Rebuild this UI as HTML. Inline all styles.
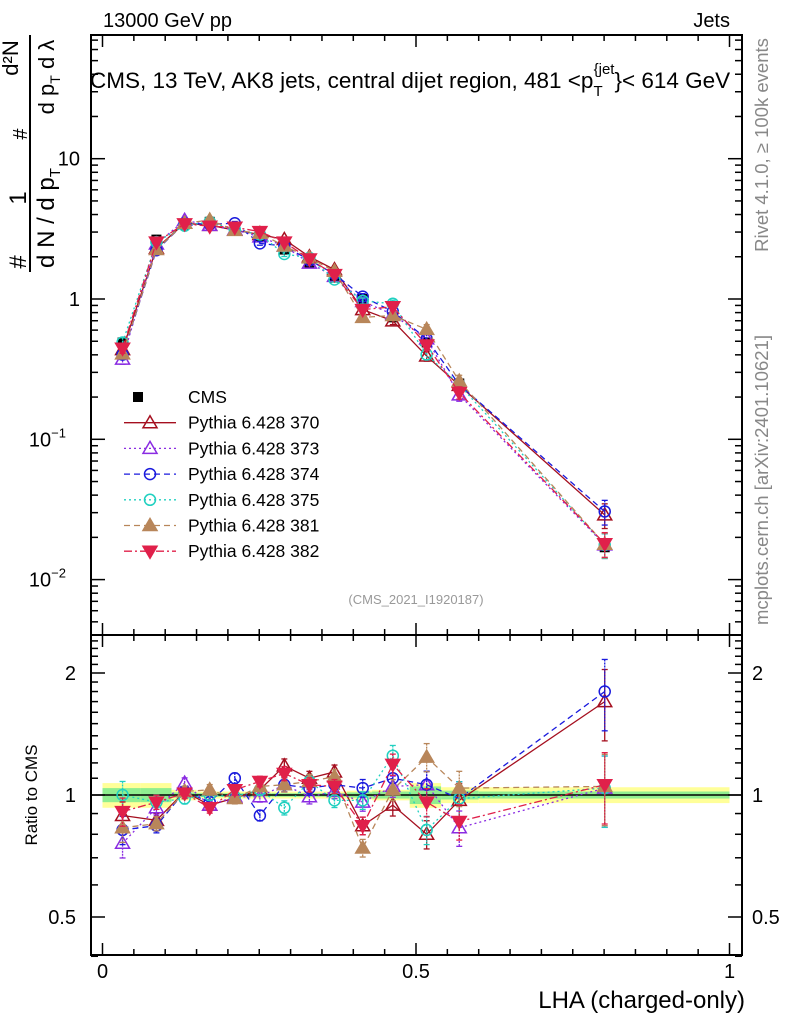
<!DOCTYPE html>
<html><head><meta charset="utf-8"><style>
body{margin:0;background:#fff}
svg{display:block;font-family:"Liberation Sans",sans-serif}
</style></head><body>
<svg id="c" width="786" height="1024" viewBox="0 0 786 1024" xmlns="http://www.w3.org/2000/svg">
<g id="bands"></g>
<g id="series"></g>
<g id="axes"></g>
<text x="103" y="27" font-size="20">13000 GeV pp</text>
<text x="730" y="27" font-size="20" text-anchor="end">Jets</text>
<text x="90" y="88" font-size="22.5">CMS, 13 TeV, AK8 jets, central dijet region, 481 &lt;p<tspan font-size="15" dy="8">T</tspan><tspan font-size="15" dy="-22" dx="-9">{jet</tspan><tspan dy="14">}&lt; 614 GeV</tspan></text>
<text x="416" y="604" font-size="13" fill="#999" text-anchor="middle">(CMS_2021_I1920187)</text>
<text transform="translate(768,145) rotate(-90)" font-size="18.5" fill="#888" text-anchor="middle">Rivet 4.1.0, ≥ 100k events</text>
<text transform="translate(768,480) rotate(-90)" font-size="18.5" fill="#888" text-anchor="middle">mcplots.cern.ch [arXiv:2401.10621]</text>
<text transform="translate(37,795) rotate(-90)" font-size="17" text-anchor="middle">Ratio to CMS</text>
<g transform="rotate(-90)">
<text x="-262" y="26" font-size="24" text-anchor="middle">#</text>
<text x="-198" y="26" font-size="24" text-anchor="middle">1</text>
<line x1="-272" y1="30" x2="-35" y2="30" stroke="#000" stroke-width="2"/>
<text x="-218" y="54" font-size="24" text-anchor="middle">d N / d p<tspan font-size="15" dy="6">T</tspan></text>
<text x="-134" y="27" font-size="20" text-anchor="middle">#</text>
<text x="-58" y="18" font-size="22" text-anchor="middle">d²N</text>
<text x="-77" y="54" font-size="22" text-anchor="middle">d p<tspan font-size="14" dy="6">T</tspan><tspan dy="-6"> d λ</tspan></text>
</g>
<text x="745" y="1008" font-size="24" text-anchor="end">LHA (charged-only)</text>
<g id="legend"></g>
</svg>
<script>
const xVals=[0.032,0.086,0.131,0.171,0.211,0.251,0.29,0.33,0.37,0.415,0.463,0.517,0.569,0.801];
const binEdges=[0,0.06,0.11,0.15,0.19,0.23,0.27,0.31,0.35,0.39,0.43,0.49,0.54,0.6,1.0];
const cmsVals=[0.49,2.65,3.4,3.55,3.15,2.8,2.25,1.82,1.42,1.0,0.74,0.49,0.25,0.017];
const cmsTotErr=[0.07,0.07,0.03,0.02,0.02,0.02,0.02,0.02,0.02,0.025,0.03,0.07,0.045,0.045];
const cmsStatErr=[0.04,0.04,0.015,0.01,0.01,0.01,0.01,0.01,0.01,0.015,0.02,0.05,0.025,0.02];
const mcRelErr=[0.08,0.04,0.03,0.03,0.03,0.03,0.04,0.04,0.04,0.05,0.06,0.08,0.1,0.2];
const r370=[0.89,0.866,1.02,0.944,0.983,1.03,1.18,1.10,1.14,0.84,0.944,0.80,0.97,1.7];
const r373=[0.76,0.93,1.07,0.944,0.99,0.99,1.06,0.99,1.02,0.96,1.05,1.06,0.83,1.04];
const r374=[0.82,0.84,1.02,0.96,1.10,0.89,1.06,1.04,1.06,1.04,1.10,1.06,0.98,1.8];
const r375=[1.0,0.96,0.98,1.0,0.99,1.03,0.93,1.08,0.97,0.97,1.25,0.82,0.98,1.04];
const r381=[0.83,0.85,1.02,1.03,0.98,1.05,1.06,1.08,1.11,0.74,1.03,1.24,1.04,1.05];
const r382=[0.91,0.96,1.01,0.93,1.03,1.08,1.13,1.06,1.05,0.84,1.19,0.96,0.86,1.06];
const seriesNames=["Pythia 6.428 370","Pythia 6.428 373","Pythia 6.428 374","Pythia 6.428 375","Pythia 6.428 381","Pythia 6.428 382"];
const ratioSets=[r370,r373,r374,r375,r381,r382];
const styles=[
 {c:"#a50f1f",dash:"",m:"tri",fill:false},
 {c:"#8a2be2",dash:"2,3",m:"tri",fill:false},
 {c:"#1a1add",dash:"6,4",m:"circ",fill:false},
 {c:"#20d0c0",dash:"2,3",m:"circ",fill:false},
 {c:"#b8865a",dash:"6,4",m:"tri",fill:true},
 {c:"#e0204a",dash:"8,3,2,3",m:"dtri",fill:true}];
const NS="http://www.w3.org/2000/svg";
const L=91,R=742,T=35,MB=635,RB=955;
const X=v=>102.5+v*627;
const Ym=v=>299-Math.log10(v)*140.3;
const Yr=v=>795-Math.log2(v)*122;
function mk(tag,attrs,parent){const e=document.createElementNS(NS,tag);for(const k in attrs)e.setAttribute(k,attrs[k]);parent.appendChild(e);return e;}
const bands=document.getElementById('bands'),ser=document.getElementById('series'),ax=document.getElementById('axes'),leg=document.getElementById('legend');
for(let i=0;i<cmsVals.length;i++){
 const x0=X(binEdges[i]),x1=X(binEdges[i+1]);
 const y=mk('rect',{x:x0,y:Yr(1+cmsTotErr[i]),width:x1-x0,height:Yr(1-cmsTotErr[i])-Yr(1+cmsTotErr[i]),fill:"#ffff99"},bands);
 
 
 const g=mk('rect',{x:x0,y:Yr(1+cmsStatErr[i]),width:x1-x0,height:Yr(1-cmsStatErr[i])-Yr(1+cmsStatErr[i]),fill:"#90ee90"},bands);
 
 
}
function marker(st,x,y,p){
 const f=st.fill?st.c:"none";let e;
 if(st.m==="tri")e=mk('polygon',{points:`${x},${y-7} ${x-7},${y+5} ${x+7},${y+5}`,fill:f,stroke:st.c,'stroke-width':1.5},p);
 else if(st.m==="dtri")e=mk('polygon',{points:`${x},${y+7} ${x-7},${y-5} ${x+7},${y-5}`,fill:f,stroke:st.c,'stroke-width':1.5},p);
 else if(st.m==="circ")e=mk('circle',{cx:x,cy:y,r:5.5,fill:f,stroke:st.c,'stroke-width':1.5},p);
 else e=mk('rect',{x:x-5,y:y-5,width:10,height:10,fill:"#000"},p);
 
 
 return e;
}
function errbar(c,x,y1,y2,p,dash){
 const e=mk('line',{x1:x,y1:y1,x2:x,y2:y2,stroke:c,'stroke-width':1.3},p);
 if(dash)e.setAttribute('stroke-dasharray',dash);
 
 
 mk('line',{x1:x-3,y1:y1,x2:x+3,y2:y1,stroke:c,'stroke-width':1.3},p);
 mk('line',{x1:x-3,y1:y2,x2:x+3,y2:y2,stroke:c,'stroke-width':1.3},p);
}
const rl=mk('line',{x1:L,y1:Yr(1),x2:R,y2:Yr(1),stroke:"#000",'stroke-width':1.5},ser);


const cg=mk('g',{},ser);


cmsVals.forEach((v,i)=>{errbar("#000",X(xVals[i]),Ym(v*(1+cmsTotErr[i])),Ym(v*(1-cmsTotErr[i])),cg);marker({m:"sq"},X(xVals[i]),Ym(v),cg);});
ratioSets.forEach((rs,s)=>{
 const st=styles[s];
 const g=mk('g',{},ser);
 
 
 const pm=rs.map((r,i)=>X(xVals[i])+","+Ym(cmsVals[i]*r)).join(" ");
 const pr=rs.map((r,i)=>X(xVals[i])+","+Yr(r)).join(" ");
 const l1=mk('polyline',{points:pm,fill:"none",stroke:st.c,'stroke-width':1.3},g);
 const l2=mk('polyline',{points:pr,fill:"none",stroke:st.c,'stroke-width':1.3},g);
 if(st.dash){l1.setAttribute('stroke-dasharray',st.dash);l2.setAttribute('stroke-dasharray',st.dash);}
 rs.forEach((r,i)=>{
  const v=cmsVals[i]*r,e=mcRelErr[i],x=X(xVals[i]);
  errbar(st.c,x,Ym(v*(1+e)),Ym(v*(1-e)),g,st.dash?"2,1":"");
  errbar(st.c,x,Yr(r*(1+e)),Yr(r*(1-e)),g,st.dash?"2,1":"");
  marker(st,x,Ym(v),g);marker(st,x,Yr(r),g);
 });
});
[[T,MB],[MB,RB]].forEach(([a,b])=>{mk('rect',{x:L,y:a,width:R-L,height:b-a,fill:"none",stroke:"#000",'stroke-width':2},ax);});
for(let k=0;k<=20;k++){const v=k*0.05,x=X(v),len=k%10===0?12:6;
 [[T,1],[MB,-1],[MB,1],[RB,-1]].forEach(([y,d])=>mk('line',{x1:x,y1:y,x2:x,y2:y+d*len,stroke:"#000",'stroke-width':1.5},ax));}
const xTickLabels=["0","0.5","1"];
[0,0.5,1].forEach((v,i)=>{const t=mk('text',{x:X(v),y:978,'font-size':20,'text-anchor':'middle'},ax);t.textContent=xTickLabels[i];
 
 });
for(let d=-3;d<=1;d++)for(let m=1;m<=9;m++){const v=m*Math.pow(10,d),y=Ym(v);if(y<T||y>MB)continue;const len=m===1?14:7;
 mk('line',{x1:L,y1:y,x2:L+len,y2:y,stroke:"#000",'stroke-width':1.5},ax);mk('line',{x1:R,y1:y,x2:R-len,y2:y,stroke:"#000",'stroke-width':1.5},ax);}
const yTickVals=[10,1,0.1,0.01];
const yTickLabels=[["10",""],["1",""],["10","−1"],["10","−2"]];
yTickVals.forEach((v,i)=>{const t=mk('text',{x:yTickLabels[i][1]?66:80,y:Ym(v)+7,'font-size':20,'text-anchor':'end'},ax);
 t.textContent=yTickLabels[i][0];
 if(yTickLabels[i][1]){const s=mk('tspan',{'font-size':13,dy:-9},t);s.textContent=yTickLabels[i][1];}
 
 });
const rMinor=[0.4,0.5,0.6,0.7,0.8,0.9,1,1.1,1.2,1.3,1.4,1.5,1.6,1.7,1.8,1.9,2,2.1,2.2,2.3,2.4];
rMinor.forEach(v=>{const y=Yr(v);const len=(v===0.5||v===1||v===2)?14:7;
 mk('line',{x1:L,y1:y,x2:L+len,y2:y,stroke:"#000",'stroke-width':1.5},ax);mk('line',{x1:R,y1:y,x2:R-len,y2:y,stroke:"#000",'stroke-width':1.5},ax);});
const rTickVals=[2,1,0.5],rTickLabels=["2","1","0.5"];
rTickVals.forEach((v,i)=>{[[76,'end'],[752,'start']].forEach(([x,a])=>{const t=mk('text',{x:x,y:Yr(v)+7,'font-size':20,'text-anchor':a},ax);t.textContent=rTickLabels[i];
 
 });});
const legNames=["CMS"].concat(seriesNames);
legNames.forEach((n,i)=>{const y=397+i*25.7;
 const g=mk('g',{},leg);
 
 
 if(i===0){marker({m:"sq"},138,y,g);}
 else{const st=styles[i-1];const l=mk('line',{x1:124,y1:y,x2:176,y2:y,stroke:st.c,'stroke-width':1.3},g);if(st.dash)l.setAttribute('stroke-dasharray',st.dash);marker(st,150,y,g);}
 const t=mk('text',{x:188,y:y+6,'font-size':17.5},g);t.textContent=n;});
</script>
</body></html>
